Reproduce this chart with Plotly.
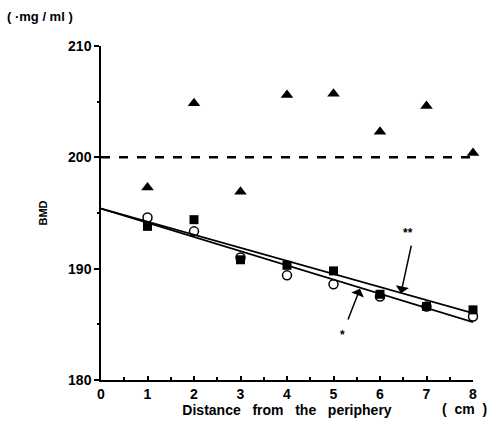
import plotly.graph_objects as go

x = [1, 2, 3, 4, 5, 6, 7, 8]
triangles = [197.3, 204.85, 196.9, 205.6, 205.7, 202.3, 204.6, 200.4]
squares = [193.8, 194.4, 190.8, 190.3, 189.8, 187.7, 186.6, 186.3]
circles = [194.6, 193.35, 191.0, 189.4, 188.6, 187.5, 186.6, 185.7]

line_x = [0, 8]
line_upper = [195.4, 186.0]   # **
line_lower = [195.4, 185.2]   # *
ref_x = [0, 8]
ref_y = [200, 200]

FONT = "Liberation Sans, Arial, sans-serif"

def f(size):
    return dict(family=FONT, size=size, color="black", weight="bold")

fig = go.Figure()
fig.add_trace(go.Scatter(x=ref_x, y=ref_y, mode="lines",
                         line=dict(color="black", width=2.5, dash="dash"), cliponaxis=False))
fig.add_trace(go.Scatter(x=line_x, y=line_upper, mode="lines",
                         line=dict(color="black", width=1.8), cliponaxis=False))
fig.add_trace(go.Scatter(x=line_x, y=line_lower, mode="lines",
                         line=dict(color="black", width=1.8), cliponaxis=False))
fig.add_trace(go.Scatter(x=x, y=triangles, mode="markers", cliponaxis=False,
                         marker=dict(symbol="triangle-up", size=11, color="black")))
fig.add_trace(go.Scatter(x=x, y=circles, mode="markers", cliponaxis=False,
                         marker=dict(symbol="circle-open", size=9, color="black",
                                     line=dict(width=1.5, color="black"))))
fig.add_trace(go.Scatter(x=x, y=squares, mode="markers", cliponaxis=False,
                         marker=dict(symbol="square", size=9, color="black")))

fig.add_annotation(x=6.45, y=187.8, ax=6.68, ay=192.2, xref="x", yref="y", axref="x", ayref="y",
                   text="", showarrow=True, arrowhead=1, arrowsize=1.5, arrowwidth=1.5, arrowcolor="black")
fig.add_annotation(x=5.57, y=188.2, ax=5.3, ay=185.3, xref="x", yref="y", axref="x", ayref="y",
                   text="", showarrow=True, arrowhead=1, arrowsize=1.5, arrowwidth=1.5, arrowcolor="black")
fig.add_annotation(x=6.6, y=193.2, xref="x", yref="y", text="**", showarrow=False, font=f(12))
fig.add_annotation(x=5.2, y=184.0, xref="x", yref="y", text="*", showarrow=False, font=f(12))

fig.add_annotation(x=-0.258, y=1.087, xref="paper", yref="paper", text="( ·mg / ml )", showarrow=False,
                   xanchor="left", yanchor="middle", font=f(13))
fig.add_annotation(x=0.911, y=-0.087, xref="paper", yref="paper", text="(  cm  )", showarrow=False,
                   xanchor="left", yanchor="middle", font=f(14))

fig.update_layout(
    width=495, height=438,
    margin=dict(l=101, r=22, t=46, b=58),
    paper_bgcolor="white", plot_bgcolor="white",
    showlegend=False,
    font=f(13),
    xaxis=dict(range=[0, 8], tickvals=[0, 1, 2, 3, 4, 5, 6, 7, 8],
               showgrid=False, zeroline=False, showline=True, linecolor="black", linewidth=1.5,
               ticks="inside", ticklen=4, tickwidth=1.5, tickcolor="black",
               minor=dict(dtick=0.5, ticks="inside", ticklen=3, tickcolor="black", showgrid=False),
               tickfont=f(14),
               title=dict(text="Distance   from   the   periphery", standoff=3, font=f(14))),
    yaxis=dict(range=[180, 210], tickvals=[180, 190, 200, 210],
               showgrid=False, zeroline=False, showline=True, linecolor="black", linewidth=1.5,
               ticks="outside", ticklen=5, tickwidth=1.5, tickcolor="black",
               minor=dict(dtick=5, ticks="outside", ticklen=2, tickcolor="black", showgrid=False),
               tickfont=f(14),
               title=dict(text="BMD", standoff=18, font=f(11))),
)

fig.write_html("out.html")
